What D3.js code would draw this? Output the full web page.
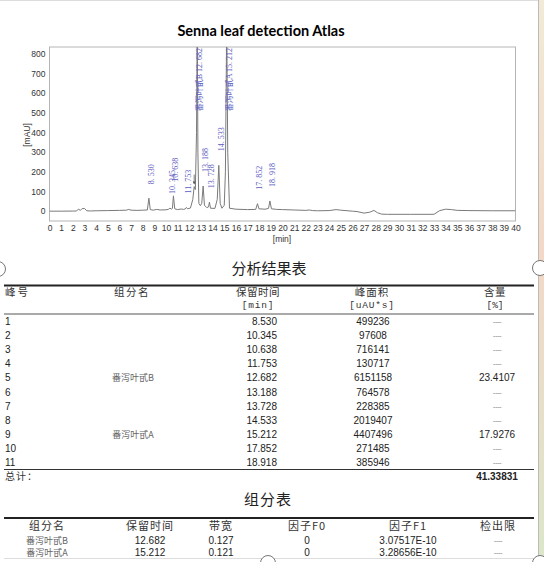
<!DOCTYPE html>
<html><head><meta charset="utf-8">
<script src="https://cdn.jsdelivr.net/npm/d3@7"></script>
<style>body{margin:0;background:#fff;overflow:hidden}svg{display:block}</style>
</head><body><svg id="c" width="544" height="562"></svg>
<script>
// ---------- data ----------
const chartTitle = "Senna leaf detection Atlas";
const xTicks = d3.range(0, 41, 1);
const yTicks = [0, 100, 200, 300, 400, 500, 600, 700, 800];

// chromatogram trace (time in min, signal in mAU)
const traceTime = [0,1,2,2.3,2.5,2.65,2.8,3.0,3.2,3.5,4,5,6,6.6,6.8,7.0,7.5,8.0,8.4,8.53,8.65,8.9,9.2,9.5,10.0,10.2,10.345,10.45,10.55,10.638,10.75,11.0,11.3,11.5,11.65,11.753,11.85,12.1,12.3,12.42,12.52,12.62,12.682,12.74,12.82,12.95,13.07,13.188,13.3,13.5,13.65,13.728,13.82,14.2,14.4,14.533,14.65,14.8,15.0,15.1,15.212,15.3,15.45,16,17,17.7,17.852,17.98,18.5,18.8,18.918,19.05,19.5,20,21,22,22.3,22.6,23,24,24.6,25,26,26.4,27.0,27.5,27.85,28.15,28.5,29,31,33,33.5,34,34.5,35,36,38,40];
const traceSignal = [0,0,0.5,1,10,4,13,14,2,1,2,3,4,5,9,5,4,5,6,66,8,5,9,6,7,9,16,10,14,78,12,8,11,9,11,19,12,16,60,125,110,400,960,300,40,28,40,128,30,18,22,46,15,14,60,233,40,15,30,200,960,300,15,10,8,9,38,12,10,14,52,12,9,8,6,4,6,3,2,3,8,5,0,-2,-10,-5,4,-8,-15,-16,-16,-16,3,10,8,4,3,2,2];

// peak table (分析结果表)
const peakNo = [1,2,3,4,5,6,7,8,9,10,11];
const peakNames = ["","","","","番泻叶甙B","","","","番泻叶甙A","",""];
const peakTimes = [8.530,10.345,10.638,11.753,12.682,13.188,13.728,14.533,15.212,17.852,18.918];
const peakHeights = [66,16,78,19,960,128,46,233,960,38,52];
const peakAreas = [499236,97608,716141,130717,6151158,764578,228385,2019407,4407496,271485,385946];
const peakContent = [null,null,null,null,23.4107,null,null,null,17.9276,null,null];
const totalContent = "41.33831";

// component table (组分表)
const compNames = ["番泻叶甙B","番泻叶甙A"];
const compTimes = ["12.682","15.212"];
const compBandwidth = ["0.127","0.121"];
const compF0 = ["0","0"];
const compF1 = ["3.07517E-10","3.28656E-10"];
const compLimit = [null,null];

// ---------- drawing ----------
const svg = d3.select("#c");
const SANS = "'Liberation Sans', Arial, sans-serif";
const CJK = "'Noto Sans CJK SC', sans-serif";
const SERIF = "'Liberation Serif', 'Noto Sans CJK SC', serif";
const MONO = "'Liberation Mono', monospace";
const DASH = "----";

// page decorations
const defs = svg.append("defs");
const g1 = defs.append("linearGradient").attr("id","edge").attr("x1",0).attr("y1",0).attr("x2",0).attr("y2",1);
g1.append("stop").attr("offset","0%").attr("stop-color","#f1ead6");
g1.append("stop").attr("offset","45%").attr("stop-color","#f3d8c6");
g1.append("stop").attr("offset","100%").attr("stop-color","#dbe6c8");
svg.append("rect").attr("x",538).attr("y",0).attr("width",6).attr("height",562).attr("fill","url(#edge)");
svg.append("line").attr("x1",538.5).attr("x2",538.5).attr("y1",0).attr("y2",562).attr("stroke","#bbb");
svg.append("line").attr("x1",0).attr("x2",538).attr("y1",0.5).attr("y2",0.5).attr("stroke","#ddd");

// title
svg.append("text").attr("x",261).attr("y",36).attr("text-anchor","middle")
  .style("font-family","Lato, 'Open Sans', sans-serif").style("font-weight","bold").style("font-size","14.5px")
  .attr("fill","#000").text(chartTitle);

// scales
const x = d3.scaleLinear().domain([0,40]).range([49.5,515.5]);
const y = d3.scaleLinear().domain([-50,835]).range([221,47]);

// frame
svg.append("rect").attr("x",x(0)).attr("y",47).attr("width",x(40)-x(0)).attr("height",221-47)
  .attr("fill","none").attr("stroke","#b5b5b5").attr("stroke-width",1);

// axes
const xAxis = d3.axisBottom(x).tickValues(xTicks).tickSize(0).tickPadding(4).tickFormat(d3.format("d"));
const gx = svg.append("g").attr("transform","translate(0,221)").call(xAxis);
gx.select(".domain").remove();
gx.selectAll("text").style("font-family",SANS).style("font-size","8.5px").attr("fill","#333");

const yAxis = d3.axisLeft(y).tickValues(yTicks).tickSize(0).tickPadding(4);
const gy = svg.append("g").attr("transform",`translate(${x(0)},0)`).call(yAxis);
gy.select(".domain").remove();
gy.selectAll("text").style("font-family",SANS).style("font-size","8.5px").attr("fill","#333");

svg.append("text").attr("x",282).attr("y",242).attr("text-anchor","middle")
  .style("font-family",SANS).style("font-size","8.5px").attr("fill","#333").text("[min]");
svg.append("text").attr("transform","translate(30,135) rotate(-90)").attr("text-anchor","middle")
  .style("font-family",SANS).style("font-size","8.5px").attr("fill","#333").text("[mAU]");

// trace
defs.append("clipPath").attr("id","plot").append("rect")
  .attr("x",x(0)).attr("y",47).attr("width",x(40)-x(0)).attr("height",174);
const pts = traceTime.map((t,i)=>[t,traceSignal[i]]);
svg.append("path").datum(pts).attr("clip-path","url(#plot)")
  .attr("d", d3.line().x(d=>x(d[0])).y(d=>y(d[1])))
  .attr("fill","none").attr("stroke","#7a7a7a").attr("stroke-width",1);

// integration marker near shoulder
svg.append("line").attr("x1",x(12.42)).attr("x2",x(12.42)).attr("y1",y(125)-12).attr("y2",y(125)-3)
  .attr("stroke","#555").attr("stroke-width",0.8);
svg.append("path").attr("d",`M${x(12.42)-1.5},${y(125)-5} L${x(12.42)+1.5},${y(125)-5} L${x(12.42)},${y(125)-2} Z`).attr("fill","#555");

// peak labels
const fmtT = t => d3.format(".3f")(t).replace(".", ". ");
peakTimes.forEach((t,i)=>{
  const big = peakHeights[i] > 835;
  const lbl = (peakNames[i] ? peakNames[i] + " " : "") + fmtT(t);
  const px = x(t) + 5;
  const py = big ? 48 : y(peakHeights[i]) - 14;
  svg.append("text").attr("transform",`translate(${px},${py}) rotate(-90)`)
    .attr("text-anchor", big ? "end" : "start")
    .style("font-family",SERIF).style("font-size","8px").attr("fill","#5c5cc0").text(lbl);
});

// ---------- 分析结果表 ----------
svg.append("text").attr("x",269).attr("y",274).attr("text-anchor","middle")
  .style("font-family",CJK).style("font-size","15px").attr("fill","#222").text("分析结果表");
svg.append("line").attr("x1",4).attr("x2",534).attr("y1",285.5).attr("y2",285.5).attr("stroke","#222").attr("stroke-width",2);
svg.append("line").attr("x1",4).attr("x2",534).attr("y1",314).attr("y2",314).attr("stroke","#555").attr("stroke-width",1);

const hdr = (tx,ty,txt,anchor,fam,size,ls) => svg.append("text").attr("x",tx).attr("y",ty)
  .attr("text-anchor",anchor).style("font-family",fam).style("font-size",size)
  .style("letter-spacing",ls||"0px").attr("fill","#333").text(txt);
hdr(5,296,"峰号","start",CJK,"10.5px","2px");
hdr(132,296,"组分名","middle",CJK,"10.5px","1.5px");
hdr(258,296,"保留时间","middle",CJK,"10.5px","0.5px");
hdr(258,307.5,"[min]","middle",MONO,"9.5px","0.8px");
hdr(372,296,"峰面积","middle",CJK,"10.5px","1px");
hdr(372,307.5,"[uAU*s]","middle",MONO,"9.5px","0.8px");
hdr(495,296,"含量","middle",CJK,"10.5px","0.5px");
hdr(495,307.5,"[%]","middle",MONO,"9.5px","0px");

const rowY = i => 325 + i*14.1;
const cell = (tx,ty,txt,anchor,opts={}) => svg.append("text").attr("x",tx).attr("y",ty)
  .attr("text-anchor",anchor).style("font-family",opts.fam||SANS).style("font-size",opts.size||"10px")
  .style("font-weight",opts.bold?"bold":"normal").style("letter-spacing",opts.ls||"0px")
  .attr("fill",opts.fill||"#222").text(txt);
peakNo.forEach((n,i)=>{
  const ry = rowY(i);
  cell(5,ry,n,"start");
  if (peakNames[i]) cell(133,ry,peakNames[i],"middle",{fam:CJK,size:"9px",fill:"#666"});
  cell(277,ry,d3.format(".3f")(peakTimes[i]),"end");
  cell(373,ry,peakAreas[i],"middle");
  if (peakContent[i] != null) cell(497,ry,d3.format(".4f")(peakContent[i]),"middle");
  else cell(497,ry-1,DASH,"middle",{size:"8px",fill:"#888",ls:"-0.6px"});
});
svg.append("line").attr("x1",4).attr("x2",534).attr("y1",469.5).attr("y2",469.5).attr("stroke","#333").attr("stroke-width",1.2);
cell(5,480,"总计：","start",{fam:CJK,size:"10px",fill:"#333",ls:"1px"});
cell(497,480,totalContent,"middle",{bold:true,size:"10px"});

// ---------- 组分表 ----------
svg.append("text").attr("x",268).attr("y",505).attr("text-anchor","middle")
  .style("font-family",CJK).style("font-size","15px").style("letter-spacing","1px").attr("fill","#222").text("组分表");
svg.append("line").attr("x1",4).attr("x2",534).attr("y1",518).attr("y2",518).attr("stroke","#222").attr("stroke-width",2);
const c2x = [47,150,221,307,408,498];
const c2h = ["组分名","保留时间","带宽","因子F0","因子F1","检出限"];
c2h.forEach((h,j)=>hdr(c2x[j],529.5,h,"middle",CJK,"11px","1px"));
compNames.forEach((nm,i)=>{
  const ry = 544 + i*12.3;
  cell(c2x[0],ry,nm,"middle",{fam:CJK,size:"9px",fill:"#666"});
  cell(c2x[1],ry,compTimes[i],"middle");
  cell(c2x[2],ry,compBandwidth[i],"middle");
  cell(c2x[3],ry,compF0[i],"middle");
  cell(c2x[4],ry,compF1[i],"middle");
  cell(c2x[5],ry-1,compLimit[i]==null?DASH:compLimit[i],"middle",{size:"8px",fill:"#888",ls:"-0.6px"});
});
svg.append("line").attr("x1",4).attr("x2",534).attr("y1",558.5).attr("y2",558.5).attr("stroke","#ddd");

// selection handles
[[-2,269],[540,268],[268,563],[540,563]].forEach(([cx,cy])=>{
  svg.append("circle").attr("cx",cx).attr("cy",cy).attr("r",7.5).attr("fill","#fff").attr("stroke","#777").attr("stroke-width",1);
});
</script></body></html>
